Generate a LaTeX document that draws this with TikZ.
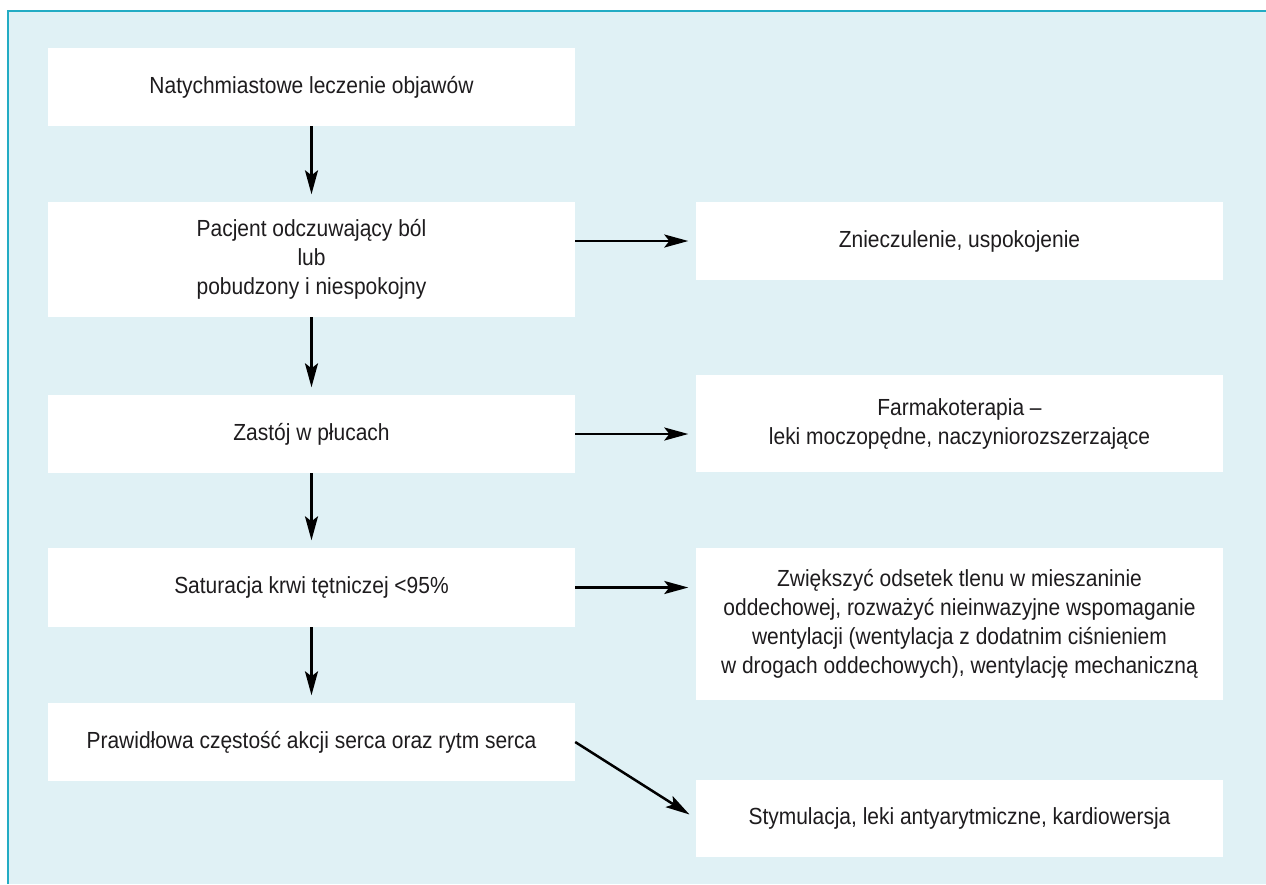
\documentclass[tikz,border=0pt]{standalone}
\usepackage{fontspec}
\setmainfont{Liberation Sans}
\newfontfamily\narrowfont[FakeStretch=0.9]{Liberation Sans}
\usetikzlibrary{arrows.meta}
\definecolor{panel}{RGB}{224,241,245}
\definecolor{edge}{RGB}{35,172,196}
\definecolor{ink}{RGB}{30,28,30}
\begin{document}
\begin{tikzpicture}[x=1pt,y=-1pt,
  box/.style={fill=white,draw=none,inner sep=0pt,align=center,minimum width=527pt,
    text=ink,font=\narrowfont\fontsize{23.3}{29}\selectfont},
  arr/.style={line width=2.5pt,-{Stealth[length=24pt,width=13pt,inset=5pt]},shorten >=7.5pt}]
\useasboundingbox (0,0) rectangle (1266,884);
\fill[white] (0,0) rectangle (1266,884);
\fill[panel] (8,11) rectangle (1266,884);
\draw[edge,line width=1.5pt] (8,884) -- (8,11) -- (1266,11);

\node[box,minimum height=78pt] (b1) at (311.5,87) {Natychmiastowe leczenie objawów};
\node[box,minimum height=115pt] (b2) at (311.5,259.5) {Pacjent odczuwający ból\\lub\\pobudzony i niespokojny};
\node[box,minimum height=78pt] (b3) at (311.5,434) {Zastój w płucach};
\node[box,minimum height=79pt] (b4) at (311.5,587.5) {Saturacja krwi tętniczej <95\%};
\node[box,minimum height=78pt] (b5) at (311.5,742) {Prawidłowa częstość akcji serca oraz rytm serca};

\node[box,minimum height=78pt] (r1) at (959.5,241) {Znieczulenie, uspokojenie};
\node[box,minimum height=97pt] (r2) at (959.5,423.5) {Farmakoterapia –\\leki moczopędne, naczyniorozszerzające};
\node[box,minimum height=152pt] (r3) at (959.5,624) {Zwiększyć odsetek tlenu w mieszaninie\\oddechowej, rozważyć nieinwazyjne wspomaganie\\wentylacji (wentylacja z dodatnim ciśnieniem\\w drogach oddechowych), wentylację mechaniczną};
\node[box,minimum height=77pt] (r4) at (959.5,818.5) {Stymulacja, leki antyarytmiczne, kardiowersja};

\draw[arr] (b1.south) -- (b2.north);
\draw[arr] (b2.south) -- (b3.north);
\draw[arr] (b3.south) -- (b4.north);
\draw[arr] (b4.south) -- (b5.north);
\draw[arr] (b2.east |- r1.west) -- (r1.west);
\draw[arr] (b3.east) -- (b3.east -| r2.west);
\draw[arr] (b4.east) -- (b4.east -| r3.west);
\draw[arr] (b5.east) -- (r4.west);
\end{tikzpicture}
\end{document}
